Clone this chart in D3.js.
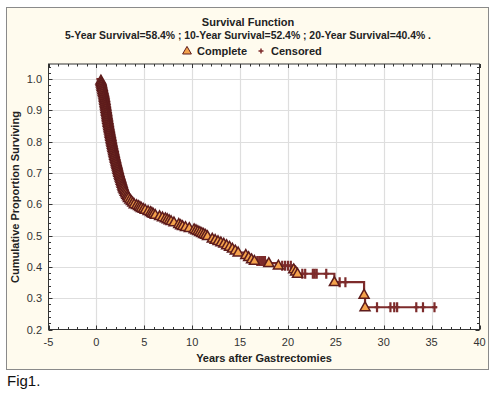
<!DOCTYPE html>
<html>
<head>
<meta charset="utf-8">
<title>Survival Function</title>
<script src="https://d3js.org/d3.v7.min.js"></script>
<style>
html, body { margin: 0; padding: 0; background: #fff; }
svg { display: block; font-family: "Liberation Sans", Arial, sans-serif; }
</style>
</head>
<body>
<div id="chart"></div>
<script>
// event (complete) times in years and survival after each event
var eventTimes = [
  0.47, 0.50, 0.54, 0.57, 0.61, 0.64, 0.68, 0.71, 0.75, 0.79,
  0.81, 0.84, 0.86, 0.89, 0.91, 0.94, 0.96, 0.99, 1.01, 1.04,
  1.06, 1.09, 1.11, 1.14, 1.16, 1.19, 1.22, 1.24, 1.27, 1.30,
  1.33, 1.36, 1.39, 1.42, 1.45, 1.48, 1.51, 1.54, 1.57, 1.60,
  1.63, 1.67, 1.70, 1.74, 1.77, 1.81, 1.84, 1.88, 1.91, 1.95,
  1.99, 2.03, 2.07, 2.11, 2.15, 2.19, 2.23, 2.27, 2.31, 2.35,
  2.40, 2.45, 2.50, 2.55, 2.60, 2.65, 2.70, 2.75, 2.80, 2.85,
  2.93, 3.01, 3.09, 3.18, 3.26, 3.35, 3.50, 3.65, 3.80, 3.95,
  4.2, 4.4, 4.55, 4.7, 4.9, 5.1, 5.4, 5.65, 5.8, 5.95, 6.15, 6.6, 6.9, 7.2, 7.4, 7.6,
  7.8, 8.1, 8.6, 8.8, 9.0, 9.3, 9.7, 10.2, 10.4, 10.6, 10.8, 11.0, 11.2, 11.4, 11.6,
  12.1, 12.4, 12.7, 13.0, 13.3, 13.6, 13.9, 14.2, 14.5, 14.8, 15.6, 15.9, 16.2, 16.5,
  18.0, 19.0, 20.6, 20.8, 21.0, 24.85, 27.95, 28.05
];
var eventSurv = [
  0.995, 0.990, 0.985, 0.980, 0.975, 0.970, 0.965, 0.960, 0.955, 0.950,
  0.945, 0.940, 0.935, 0.930, 0.925, 0.920, 0.915, 0.910, 0.905, 0.900,
  0.895, 0.890, 0.885, 0.880, 0.875, 0.870, 0.865, 0.860, 0.855, 0.850,
  0.845, 0.840, 0.835, 0.830, 0.825, 0.820, 0.815, 0.810, 0.805, 0.800,
  0.795, 0.790, 0.785, 0.780, 0.775, 0.770, 0.765, 0.760, 0.755, 0.750,
  0.745, 0.740, 0.735, 0.730, 0.725, 0.720, 0.715, 0.710, 0.705, 0.700,
  0.695, 0.690, 0.685, 0.680, 0.675, 0.670, 0.665, 0.660, 0.655, 0.650,
  0.645, 0.640, 0.635, 0.630, 0.625, 0.620, 0.615, 0.610, 0.605, 0.600,
  0.597, 0.594, 0.591, 0.588, 0.585, 0.582, 0.578, 0.575, 0.572, 0.569, 0.566, 0.562, 0.558, 0.555, 0.552, 0.549,
  0.546, 0.542, 0.537, 0.533, 0.530, 0.527, 0.524, 0.520, 0.517, 0.514, 0.511, 0.508, 0.505, 0.502, 0.498,
  0.490, 0.486, 0.482, 0.478, 0.474, 0.469, 0.464, 0.458, 0.452, 0.446, 0.438, 0.431, 0.424, 0.419,
  0.412, 0.404, 0.392, 0.385, 0.378, 0.351, 0.311, 0.271
];
// censored times
var censorTimes = [16.8, 17.0, 17.2, 17.4, 17.6, 19.4, 19.7, 20.0, 20.3,
  21.5, 21.8, 22.6, 22.8, 23.0, 24.0, 25.4, 26.0,
  29.3, 30.7, 31.1, 31.4, 33.4, 34.1, 35.3];
var lastFollowUp = 35.6;

var xTicks = [-5, 0, 5, 10, 15, 20, 25, 30, 35, 40];
var yTicks = [0.2, 0.3, 0.4, 0.5, 0.6, 0.7, 0.8, 0.9, 1.0];

var W = 500, H = 393;
var svg = d3.select("#chart").append("svg").attr("width", W).attr("height", H);

// outer frame
svg.append("rect").attr("x", 6.5).attr("y", 7.5).attr("width", 482).attr("height", 362)
  .attr("fill", "#fffbee").attr("stroke", "#8a8a8a");

var x = d3.scaleLinear().domain([-5, 40]).range([48.5, 479.5]);
var y = d3.scaleLinear().domain([0.2, 1.048]).range([329.5, 64]);

// plot background
svg.append("rect").attr("x", x(-5)).attr("y", y(1.048))
  .attr("width", x(40) - x(-5)).attr("height", y(0.2) - y(1.048)).attr("fill", "#fff");

// grid
var grid = svg.append("g").attr("stroke", "#dedede").attr("stroke-width", 1.2);
grid.selectAll(".gx").data(xTicks.slice(1, -1)).join("line")
  .attr("x1", d => Math.round(x(d)) + 0.5).attr("x2", d => Math.round(x(d)) + 0.5)
  .attr("y1", y(1.048)).attr("y2", y(0.2));
grid.selectAll(".gy").data(yTicks.slice(1)).join("line")
  .attr("y1", d => Math.round(y(d)) + 0.5).attr("y2", d => Math.round(y(d)) + 0.5)
  .attr("x1", x(-5)).attr("x2", x(40));

// ticks inward on all four sides
var minorX = d3.range(-5, 40.01, 1);
var minorY = d3.range(0.2, 1.049, 0.02);
var tk = svg.append("g").attr("stroke", "#333").attr("stroke-width", 1);
[[y(0.2), -1], [y(1.048), 1]].forEach(function (s) {
  tk.selectAll(null).data(minorX).join("line")
    .attr("x1", d => Math.round(x(d)) + 0.5).attr("x2", d => Math.round(x(d)) + 0.5)
    .attr("y1", s[0]).attr("y2", d => s[0] + s[1] * (Math.abs(d % 5) < 1e-6 ? 4 : 2.5));
});
[[x(-5), 1], [x(40), -1]].forEach(function (s) {
  tk.selectAll(null).data(minorY).join("line")
    .attr("y1", d => Math.round(y(d)) + 0.5).attr("y2", d => Math.round(y(d)) + 0.5)
    .attr("x1", s[0]).attr("x2", d => s[0] + s[1] * (Math.abs(Math.round(d * 100) % 10) < 1e-6 ? 4 : 2.5));
});

// plot border
svg.append("rect").attr("x", x(-5)).attr("y", y(1.048))
  .attr("width", x(40) - x(-5)).attr("height", y(0.2) - y(1.048))
  .attr("fill", "none").attr("stroke", "#333");

// tick labels
svg.append("g").attr("font-size", 11).attr("fill", "#333").attr("text-anchor", "middle")
  .selectAll("text").data(xTicks).join("text")
  .attr("x", d => x(d)).attr("y", 345.5).text(d => d);
svg.append("g").attr("font-size", 11).attr("fill", "#333").attr("text-anchor", "end")
  .selectAll("text").data(yTicks).join("text")
  .attr("x", 42).attr("y", d => y(d) + 4).text(d3.format(".1f"));

// axis titles
svg.append("text").attr("x", 264).attr("y", 362).attr("text-anchor", "middle")
  .attr("font-size", 11).attr("font-weight", "bold").attr("fill", "#222")
  .text("Years after Gastrectomies");
svg.append("text").attr("transform", "translate(19,197) rotate(-90)").attr("text-anchor", "middle")
  .attr("font-size", 11).attr("font-weight", "bold").attr("fill", "#222")
  .text("Cumulative Proportion Surviving");

// titles
svg.append("text").attr("x", 248).attr("y", 26).attr("text-anchor", "middle")
  .attr("font-size", 11).attr("font-weight", "bold").attr("fill", "#222").text("Survival Function");
svg.append("text").attr("x", 248).attr("y", 39).attr("text-anchor", "middle")
  .attr("font-size", 10.4).attr("font-weight", "bold").attr("fill", "#222")
  .text("5-Year Survival=58.4% ; 10-Year Survival=52.4% ; 20-Year Survival=40.4% .");

var lineColor = "#7d2b2b", triFill = "#f4a24c", triStroke = "#5e1c1c";
var tri = "M0,-5.4L5,3.4L-5,3.4Z";

// legend
var lg = svg.append("g").attr("font-size", 11).attr("font-weight", "bold").attr("fill", "#222");
lg.append("path").attr("d", "M0,-4.6L4.4,3L-4.4,3Z").attr("transform", "translate(187,51)")
  .attr("fill", triFill).attr("stroke", triStroke);
lg.append("text").attr("x", 197).attr("y", 55).text("Complete");
lg.append("path").attr("d", "M-2.5,0H2.5M0,-2.5V2.5").attr("transform", "translate(261,51)")
  .attr("stroke", lineColor).attr("stroke-width", 1.5);
lg.append("text").attr("x", 271).attr("y", 55).text("Censored");

// step line
var pts = [[0, 1.0]].concat(eventTimes.map((t, i) => [t, eventSurv[i]]));
pts.push([lastFollowUp, eventSurv[eventSurv.length - 1]]);
var line = d3.line().x(d => x(d[0])).y(d => y(d[1])).curve(d3.curveStepAfter);
svg.append("path").attr("d", line(pts)).attr("fill", "none")
  .attr("stroke", lineColor).attr("stroke-width", 2.2);

function survAt(t) {
  var i = d3.bisectRight(eventTimes, t);
  return i === 0 ? 1.0 : eventSurv[i - 1];
}

// censored marks
svg.append("g").attr("stroke", lineColor).attr("stroke-width", 2.2)
  .selectAll("path").data(censorTimes).join("path")
  .attr("d", "M-2.5,0H2.5M0,-5V5")
  .attr("transform", d => `translate(${x(d)},${y(survAt(d))})`);

// complete (event) marks
svg.append("g").selectAll("path").data(eventTimes).join("path")
  .attr("d", tri).attr("fill", triFill).attr("stroke", triStroke).attr("stroke-width", 1.5)
  .attr("stroke-linejoin", "miter")
  .attr("transform", (d, i) => `translate(${x(d)},${y(eventSurv[i])})`);

svg.append("text").attr("x", 7).attr("y", 386).attr("font-size", 15).attr("fill", "#111").text("Fig1.");
</script>
</body>
</html>
